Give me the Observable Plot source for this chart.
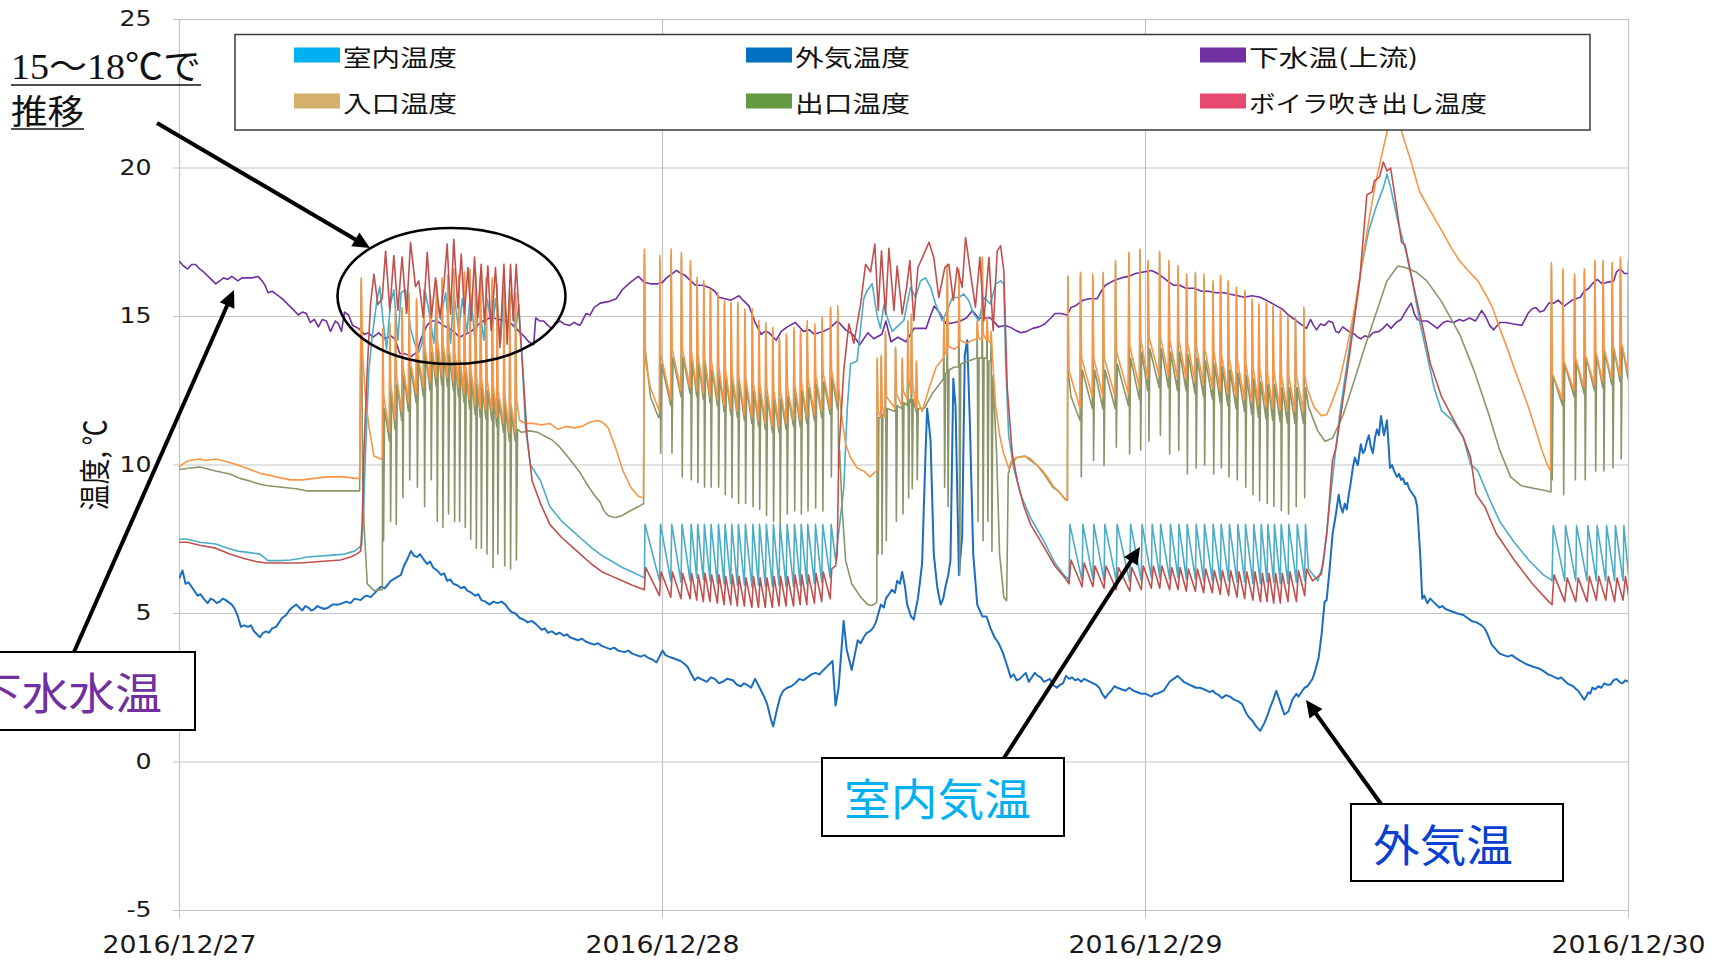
<!DOCTYPE html>
<html>
<head>
<meta charset="utf-8">
<script src="https://cdn.jsdelivr.net/npm/d3@7"></script>
<script src="https://cdn.jsdelivr.net/npm/@observablehq/plot@0.6"></script>
<style>
html,body{margin:0;padding:0;background:#fff;}
#wrap{position:relative;width:1721px;height:960px;overflow:hidden;}
</style>
</head>
<body>
<div id="wrap"></div>
<script>
// ---------- chart data ----------
const seriesNames = ["室内温度","外気温度","下水温(上流)","入口温度","出口温度","ボイラ吹き出し温度"];
const lineColors = ["#4bacc6","#1c6dbd","#7030a0","#f79646","#8a9668","#c0504d"];
const swatchColors = ["#00b0f0","#0070c0","#7030a0","#d4b06a","#659a45","#e84a6f"];
const dayLabels = ["2016/12/27","2016/12/28","2016/12/29","2016/12/30"];
const dayHours = [0,24,48,72];
const yTicks = [-5,0,5,10,15,20,25];

// [hours since 2016/12/27 00:00, °C]
const indoorTemp = [[0,7.5],[0.4,7.5],[1.0,7.4],[1.8,7.34],[2.4,7.2],[2.9,7.1],[3.5,7.05],[4.0,7.0],[4.4,6.78],[5.0,6.78],[5.5,6.8],[6.0,6.85],[6.3,6.9],[7.3,6.95],[8.2,7.0],[8.7,7.1],[8.9,7.2],[9.05,7.3],
[9.13,8.1],[9.24,10.4],[9.41,13.2],[9.57,14.3],[9.82,15.6],[9.95,16.0],[10.12,14.8],[10.29,13.9],[10.48,15.4],[10.65,15.9],[10.85,14.2],[11.01,15.8],[11.23,15.9],[11.48,14.6],[11.68,14.1],[11.89,13.8],[12.06,14.1],[12.22,15.8],[12.39,15.2],[12.64,14.1],[12.8,15.6],[12.97,14.9],[13.22,15.8],[13.47,14.1],[13.63,15.8],[13.88,14.5],[14.05,15.6],[14.29,14.5],[14.46,15.8],[14.71,14.0],[14.87,15.6],[15.12,14.2],[15.29,15.6],[15.54,14.5],[15.7,15.6],[15.95,14.1],[16.12,15.9],[16.28,14.5],[16.48,15.8],[16.7,14.5],[16.86,15.4],[17.03,13.5],[17.19,11.27],[17.44,10.0],[17.94,9.47],
[18.4,8.6],[19.0,8.1],[19.5,7.8],[20.0,7.5],[20.5,7.2],[21.0,6.95],[21.5,6.75],[22.0,6.55],[22.5,6.4],[23.1,6.2],
[23.13,8.0],[23.85,6.1],[23.9,8.0],[24.41,6.1],[24.46,8.0],[24.92,6.05],[24.97,8.0],[25.37,6.1],[25.42,8.0],[25.7,6.2],[25.75,8.0],[26.03,6.15],[26.08,8.0],[26.36,6.1],[26.41,8.0],[26.73,6.0],[26.78,8.0],[27.06,6.0],[27.11,8.0],[27.39,6.0],[27.44,8.0],[27.72,5.95],[27.77,8.0],[28.07,5.95],[28.12,8.0],[28.44,5.9],[28.49,8.0],[28.77,5.95],[28.82,8.0],[29.11,5.9],[29.16,8.0],[29.46,5.9],[29.51,8.0],[29.79,5.95],[29.84,8.0],[30.14,5.9],[30.19,8.0],[30.51,5.9],[30.56,8.0],[30.84,5.95],[30.89,8.0],[31.17,6.0],[31.22,8.0],[31.55,6.0],[31.6,8.0],[31.91,6.05],[31.96,8.0],[32.33,6.2],[32.38,8.0],[32.6,6.8],
[33.01,9.25],[33.18,11.9],[33.34,13.4],[33.67,13.5],[34.0,15.6],[34.17,15.87],[34.42,16.1],[34.67,15.0],[34.83,14.6],[35.0,15.4],[35.17,14.97],[35.41,14.5],[35.99,14.86],[36.32,15.98],[36.57,15.64],[36.82,16.2],[37.07,16.3],[37.32,15.98],[37.57,15.42],[37.9,14.86],[38.15,15.2],[38.4,15.64],[38.73,15.64],[38.97,15.76],[39.22,15.53],[39.47,15.08],[39.72,14.86],[39.97,15.64],[40.3,15.42],[40.55,16.1],[40.8,16.2],[40.96,16.1],[41.05,13.5],[41.2,11.0],[41.45,9.9],[41.8,9.0],[42.3,8.2],[42.9,7.5],[43.5,6.7],[44.0,6.25],[44.12,6.2],
[44.2,6.1],[44.24,8.0],[44.85,6.1],[44.89,8.0],[45.39,6.15],[45.43,8.0],[45.94,6.1],[45.98,8.0],[46.55,6.1],[46.59,8.0],[47.22,6.05],[47.26,8.0],[47.79,6.1],[47.83,8.0],[48.29,6.2],[48.33,8.0],[48.71,6.2],[48.75,8.0],[49.2,6.15],[49.24,8.0],[49.62,6.2],[49.66,8.0],[50.03,6.15],[50.07,8.0],[50.48,6.15],[50.52,8.0],[50.89,6.1],[50.93,8.0],[51.32,6.1],[51.36,8.0],[51.72,6.1],[51.76,8.0],[52.13,6.1],[52.17,8.0],[52.55,6.05],[52.59,8.0],[52.93,6.05],[52.97,8.0],[53.34,6.0],[53.38,8.0],[53.71,6.0],[53.75,8.0],[54.04,6.05],[54.08,8.0],[54.37,6.05],[54.41,8.0],[54.7,6.0],[54.74,8.0],[55.08,6.0],[55.12,8.0],[55.5,6.05],[55.54,8.0],[55.91,6.1],[55.95,8.0],
[56.1,6.5],[56.56,6.1],[56.83,6.67],[57.1,8.35],[57.37,10.03],[57.65,11.7],[58.01,13.4],[58.37,15.08],[58.73,16.65],[59.09,17.88],[59.45,18.67],[59.82,19.34],[60.0,19.8],[60.18,19.34],[60.54,18.2],[60.9,17.3],[61.26,16.2],[61.62,14.85],[61.98,13.73],[62.34,12.6],[62.71,11.83],[63.25,11.5],[63.79,10.93],[64.15,10.03],[64.51,9.8],[65.06,8.9],[65.6,8.1],[66.32,7.4],[67.04,6.8],[67.77,6.3],[68.13,6.15],
[68.2,6.1],[68.26,7.96],[68.83,6.1],[68.87,7.96],[69.38,6.1],[69.42,7.96],[69.94,6.1],[69.98,7.96],[70.4,6.1],[70.44,7.96],[70.87,6.1],[70.91,7.96],[71.31,6.1],[71.35,7.96],[71.73,6.1],[71.77,7.96],[72.0,6.3]];

const outdoorTemp = [[0,6.2],[0.15,6.45],[0.3,6.0],[0.45,6.05],[0.6,5.9],[0.75,5.75],[0.9,5.6],[1.05,5.65],[1.2,5.5],[1.4,5.35],[1.55,5.5],[1.7,5.45],[1.85,5.35],[2.0,5.4],[2.15,5.5],[2.3,5.45],[2.6,5.3],[2.75,5.15],[2.9,4.9],[3.05,4.55],[3.2,4.6],[3.4,4.55],[3.55,4.6],[3.7,4.4],[3.85,4.3],[4.0,4.2],[4.15,4.35],[4.3,4.4],[4.45,4.35],[4.6,4.5],[4.8,4.55],[4.95,4.7],[5.1,4.85],[5.3,4.95],[5.45,5.1],[5.6,5.2],[5.8,5.3],[5.95,5.2],[6.1,5.1],[6.25,5.25],[6.4,5.2],[6.55,5.1],[6.7,5.15],[6.85,5.25],[7.0,5.2],[7.2,5.15],[7.4,5.2],[7.6,5.3],[7.9,5.3],[8.1,5.35],[8.3,5.4],[8.5,5.35],[8.7,5.5],[9.0,5.45],[9.15,5.55],[9.3,5.6],[9.5,5.55],[9.66,5.66],[9.85,5.8],[10.0,5.9],[10.2,5.85],[10.5,6.1],[10.75,6.2],[11.0,6.3],[11.15,6.6],[11.3,6.8],[11.5,7.1],[11.65,6.95],[11.8,6.9],[11.95,7.0],[12.1,6.85],[12.3,6.67],[12.45,6.75],[12.6,6.55],[12.8,6.45],[13.0,6.3],[13.15,6.35],[13.3,6.1],[13.45,6.15],[13.6,6.0],[13.8,5.95],[14.0,5.85],[14.15,5.9],[14.3,5.77],[14.5,5.7],[14.7,5.6],[14.85,5.65],[15.0,5.45],[15.2,5.4],[15.4,5.3],[15.6,5.4],[15.8,5.35],[16.0,5.4],[16.2,5.3],[16.35,5.15],[16.5,5.05],[16.7,5.0],[16.9,4.85],[17.1,4.8],[17.3,4.7],[17.5,4.75],[17.7,4.65],[17.85,4.55],[18.0,4.45],[18.15,4.5],[18.3,4.35],[18.5,4.4],[18.7,4.3],[18.9,4.35],[19.1,4.25],[19.25,4.3],[19.4,4.2],[19.6,4.15],[19.8,4.1],[20.0,4.15],[20.2,4.05],[20.4,4.0],[20.6,3.95],[20.8,4.0],[21.0,3.9],[21.2,3.85],[21.4,3.8],[21.6,3.85],[21.8,3.75],[22.1,3.7],[22.3,3.75],[22.5,3.65],[22.7,3.6],[22.9,3.55],[23.1,3.6],[23.3,3.5],[23.5,3.45],[23.7,3.35],[24.0,3.75],[24.15,3.6],[24.3,3.55],[24.5,3.5],[24.7,3.45],[24.9,3.4],[25.1,3.3],[25.25,3.2],[25.4,3.0],[25.6,2.75],[25.75,2.85],[25.9,2.8],[26.05,2.75],[26.2,2.7],[26.4,2.85],[26.6,2.8],[26.8,2.65],[27.0,2.7],[27.2,2.8],[27.5,2.75],[27.7,2.6],[27.9,2.55],[28.05,2.65],[28.2,2.6],[28.4,2.5],[28.6,2.8],[28.75,2.6],[28.9,2.4],[29.05,2.2],[29.2,1.95],[29.4,1.4],[29.5,1.2],[29.7,1.8],[29.85,2.2],[30.0,2.4],[30.2,2.5],[30.4,2.55],[30.6,2.65],[30.8,2.8],[31.0,2.75],[31.2,2.85],[31.4,2.95],[31.6,3.0],[31.8,2.95],[32.0,3.1],[32.15,3.2],[32.3,3.3],[32.45,3.4],[32.6,1.9],[32.75,2.5],[33.0,4.75],[33.15,3.8],[33.4,3.1],[33.55,3.6],[33.7,4.1],[33.85,4.0],[34.0,4.2],[34.15,4.35],[34.3,4.4],[34.45,4.5],[34.6,4.7],[34.85,5.3],[35.0,5.2],[35.1,5.5],[35.25,5.65],[35.4,5.8],[35.55,5.7],[35.66,6.1],[35.8,6.0],[35.91,6.4],[36.05,5.9],[36.16,5.3],[36.35,4.9],[36.49,4.8],[36.6,5.2],[36.69,5.5],[36.8,6.1],[36.9,6.7],[37.07,10.4],[37.15,11.9],[37.25,11.3],[37.32,10.8],[37.48,7.0],[37.65,5.9],[37.82,5.3],[37.95,5.5],[38.06,5.9],[38.2,6.3],[38.31,6.8],[38.45,12.9],[38.56,12.0],[38.73,6.3],[38.89,7.6],[39.02,13.7],[39.14,14.2],[39.27,11.5],[39.44,7.0],[39.64,5.3],[39.89,4.9],[40.1,4.9],[40.3,4.5],[40.5,4.2],[40.7,4.0],[40.9,3.7],[41.1,3.3],[41.3,2.85],[41.45,2.95],[41.6,2.75],[41.75,2.8],[41.9,2.9],[42.05,3.0],[42.2,2.7],[42.35,2.85],[42.5,3.0],[42.65,2.9],[42.8,2.85],[42.95,2.7],[43.1,2.75],[43.25,2.8],[43.4,2.6],[43.6,2.5],[43.75,2.6],[43.9,2.65],[44.05,2.9],[44.2,2.8],[44.35,2.85],[44.5,2.75],[44.65,2.8],[44.8,2.7],[44.95,2.8],[45.1,2.75],[45.25,2.7],[45.4,2.65],[45.55,2.6],[45.7,2.5],[45.85,2.3],[46.0,2.15],[46.15,2.3],[46.3,2.4],[46.45,2.55],[46.6,2.5],[46.8,2.45],[47.0,2.4],[47.2,2.5],[47.4,2.4],[47.6,2.35],[47.8,2.3],[48.0,2.3],[48.15,2.25],[48.3,2.2],[48.45,2.3],[48.6,2.3],[48.75,2.35],[48.9,2.4],[49.05,2.55],[49.2,2.7],[49.4,2.8],[49.6,2.9],[49.75,2.8],[49.9,2.7],[50.05,2.65],[50.2,2.6],[50.35,2.55],[50.5,2.5],[50.7,2.5],[50.9,2.45],[51.05,2.4],[51.2,2.35],[51.35,2.4],[51.5,2.3],[51.65,2.25],[51.8,2.15],[52.0,2.25],[52.2,2.2],[52.4,2.1],[52.6,2.05],[52.8,1.95],[53.0,1.65],[53.15,1.5],[53.3,1.4],[53.5,1.2],[53.7,1.05],[53.9,1.3],[54.05,1.55],[54.2,1.85],[54.35,2.1],[54.5,2.4],[54.7,2.0],[54.9,1.6],[55.1,1.7],[55.3,2.1],[55.5,2.3],[55.6,2.2],[55.7,2.3],[55.9,2.5],[56.05,2.55],[56.2,2.7],[56.3,2.8],[56.4,3.0],[56.6,3.5],[56.75,4.3],[56.9,5.4],[57.0,5.45],[57.15,6.5],[57.3,7.7],[57.45,8.3],[57.6,9.0],[57.7,8.6],[57.8,8.4],[57.9,8.7],[58.0,8.5],[58.1,9.0],[58.2,9.4],[58.3,9.9],[58.4,10.25],[58.55,10.0],[58.7,10.7],[58.8,10.4],[58.9,10.5],[59.0,10.8],[59.1,11.0],[59.2,10.6],[59.3,10.4],[59.4,10.9],[59.5,11.2],[59.6,11.0],[59.7,11.65],[59.85,11.0],[60.0,11.5],[60.15,9.9],[60.25,10.0],[60.35,9.8],[60.5,9.6],[60.6,9.7],[60.7,9.5],[60.8,9.55],[60.9,9.35],[61.0,9.4],[61.1,9.2],[61.2,9.1],[61.3,9.0],[61.4,8.9],[61.5,8.6],[61.65,7.0],[61.75,5.5],[61.85,5.6],[62.0,5.35],[62.15,5.5],[62.3,5.4],[62.45,5.3],[62.6,5.2],[62.75,5.25],[62.9,5.15],[63.1,5.1],[63.3,5.05],[63.5,5.0],[63.8,4.95],[64.0,4.85],[64.2,4.75],[64.45,4.7],[64.7,4.6],[64.85,4.5],[65.0,4.3],[65.2,3.95],[65.4,3.8],[65.6,3.65],[65.8,3.6],[66.0,3.55],[66.2,3.6],[66.4,3.5],[66.65,3.4],[66.9,3.3],[67.1,3.25],[67.3,3.2],[67.55,3.15],[67.8,3.05],[68.0,2.95],[68.2,2.9],[68.35,2.85],[68.5,2.8],[68.65,2.85],[68.8,2.75],[68.95,2.65],[69.1,2.6],[69.25,2.55],[69.4,2.45],[69.5,2.4],[69.6,2.3],[69.8,2.1],[69.9,2.2],[70.0,2.35],[70.1,2.3],[70.2,2.5],[70.35,2.45],[70.5,2.55],[70.65,2.5],[70.8,2.65],[70.95,2.6],[71.1,2.6],[71.25,2.75],[71.4,2.8],[71.55,2.7],[71.7,2.65],[71.85,2.75],[72.0,2.7]];

const sewerTemp = [[0,16.85],[0.2,16.7],[0.4,16.6],[0.6,16.75],[0.8,16.75],[1.0,16.6],[1.2,16.5],[1.5,16.3],[1.8,16.1],[2.0,16.2],[2.2,16.3],[2.4,16.25],[2.6,16.35],[2.9,16.2],[3.1,16.3],[3.3,16.3],[3.6,16.3],[3.9,16.35],[4.1,16.2],[4.25,16.05],[4.4,15.8],[4.6,15.85],[4.8,15.75],[5.1,15.6],[5.4,15.4],[5.7,15.2],[5.9,15.05],[6.1,15.15],[6.3,15.1],[6.5,14.8],[6.7,14.9],[6.9,14.65],[7.1,14.9],[7.3,14.85],[7.5,14.5],[7.75,14.85],[7.9,14.75],[8.05,14.5],[8.2,15.15],[8.4,15.05],[8.6,14.7],[8.9,14.6],[9.2,14.4],[9.4,14.45],[9.6,14.3],[9.9,14.45],[10.2,14.25],[10.5,14.35],[10.7,14.25],[10.95,13.75],[11.2,13.75],[11.5,13.65],[11.8,13.8],[12.0,14.25],[12.3,14.7],[12.5,14.85],[12.8,14.85],[13.1,14.7],[13.4,14.6],[13.7,14.45],[13.9,14.3],[14.2,14.4],[14.5,14.5],[14.8,14.7],[15.1,14.85],[15.4,14.95],[15.6,14.95],[15.9,14.9],[16.2,14.85],[16.5,14.75],[16.8,14.55],[17.1,14.35],[17.35,14.15],[17.6,14.05],[17.7,14.95],[17.9,14.85],[18.1,14.85],[18.3,14.7],[18.5,14.6],[18.7,14.75],[18.9,14.85],[19.1,14.75],[19.4,14.7],[19.6,14.8],[19.9,14.7],[20.2,15.1],[20.4,15.05],[20.6,15.3],[20.9,15.45],[21.3,15.5],[21.7,15.6],[22.0,15.9],[22.4,16.15],[22.8,16.35],[23.1,16.15],[23.4,16.1],[23.75,16.1],[24.0,16.15],[24.2,16.3],[24.5,16.45],[24.7,16.55],[24.9,16.45],[25.1,16.4],[25.4,16.2],[25.65,16.05],[26.0,16.05],[26.4,15.95],[26.6,15.85],[26.8,15.65],[27.1,15.6],[27.4,15.55],[27.8,15.7],[28.0,15.55],[28.3,15.35],[28.6,14.8],[28.9,14.4],[29.1,14.5],[29.3,14.45],[29.65,14.2],[29.9,14.5],[30.2,14.65],[30.6,14.8],[31.0,14.5],[31.3,14.55],[31.55,14.4],[32.0,14.5],[32.3,14.6],[32.7,14.85],[33.1,14.55],[33.45,14.4],[33.8,14.05],[34.2,14.45],[34.5,14.25],[34.9,14.4],[35.1,14.85],[35.35,14.15],[35.7,14.3],[36.1,14.15],[36.5,14.6],[36.8,14.6],[37.1,14.6],[37.3,15.0],[37.5,15.35],[37.8,15.1],[38.1,14.75],[38.5,14.8],[38.8,14.85],[39.1,14.95],[39.4,15.2],[39.7,14.95],[40.0,14.95],[40.3,14.95],[40.7,14.65],[41.0,14.7],[41.25,14.65],[41.5,14.55],[41.8,14.45],[42.1,14.5],[42.4,14.6],[42.7,14.65],[43.0,14.75],[43.3,14.95],[43.5,15.1],[43.8,15.1],[44.1,15.05],[44.3,15.3],[44.5,15.35],[44.9,15.55],[45.2,15.6],[45.6,15.6],[45.8,15.85],[46.0,16.05],[46.4,16.2],[46.8,16.3],[47.15,16.35],[47.5,16.45],[47.9,16.5],[48.3,16.55],[48.6,16.45],[48.9,16.3],[49.1,16.2],[49.4,16.05],[49.7,16.05],[50.0,15.95],[50.4,15.95],[50.8,15.85],[51.1,15.85],[51.5,15.8],[51.9,15.8],[52.2,15.75],[52.6,15.7],[52.9,15.65],[53.3,15.7],[53.7,15.65],[54.0,15.55],[54.4,15.4],[54.8,15.25],[55.1,15.05],[55.5,14.85],[55.8,14.7],[56.0,14.6],[56.2,14.9],[56.35,14.7],[56.5,14.55],[56.7,14.75],[56.9,14.7],[57.1,14.85],[57.3,14.8],[57.45,14.5],[57.6,14.45],[57.8,14.65],[58.0,14.55],[58.2,14.45],[58.4,14.4],[58.55,14.3],[58.7,14.25],[58.9,14.35],[59.1,14.3],[59.3,14.45],[59.6,14.5],[59.8,14.6],[60.0,14.75],[60.2,14.6],[60.45,14.8],[60.7,14.9],[60.95,15.2],[61.2,15.45],[61.35,15.1],[61.5,14.9],[61.7,14.85],[62.0,14.85],[62.3,14.7],[62.5,14.6],[62.8,14.8],[63.0,14.85],[63.3,14.8],[63.6,14.9],[63.8,14.85],[64.1,14.95],[64.4,14.85],[64.7,15.2],[64.9,15.0],[65.1,14.7],[65.3,14.55],[65.6,14.8],[65.9,14.8],[66.3,14.75],[66.7,14.7],[67.0,15.1],[67.2,15.25],[67.4,15.3],[67.6,15.15],[67.8,15.2],[68.04,15.45],[68.3,15.45],[68.5,15.55],[68.8,15.35],[69.0,15.45],[69.2,15.55],[69.6,15.65],[69.8,15.85],[70.03,15.95],[70.2,16.1],[70.44,16.25],[70.7,16.1],[70.94,16.15],[71.27,16.2],[71.4,16.5],[71.6,16.6],[71.8,16.45],[72.0,16.45]];

const inletTemp = [[0,9.95],[0.3,10.1],[0.5,10.15],[1.0,10.2],[1.3,10.15],[1.8,10.2],[2.4,10.1],[2.9,10.0],[3.3,9.9],[3.7,9.8],[4.1,9.7],[4.5,9.65],[4.8,9.6],[5.5,9.5],[6.1,9.5],[6.7,9.55],[7.3,9.6],[8.2,9.6],[8.7,9.55],[8.95,9.55],
[9.03,16.3],[9.1,13.7],[9.25,12.2],[9.41,11.3],[9.66,10.3],[9.99,10.2],
[10.08,10.25],[10.1,14.6],[10.15,12.3],[10.43,11.1],[10.45,14.8],[10.5,12.7],[10.71,11.5],[10.73,15.2],[10.78,13.0],[11.04,11.8],[11.06,15.3],[11.11,13.3],[11.38,12.1],[11.4,15.8],[11.45,13.6],[11.76,12.4],[11.78,15.6],[11.83,13.8],[12.12,12.6],[12.14,15.9],[12.19,14.0],[12.45,12.8],[12.47,15.7],[12.52,14.1],[12.75,12.95],[12.77,16.2],[12.82,14.2],[13.03,13.0],[13.05,16.3],[13.1,14.1],[13.31,12.95],[13.33,16.4],[13.38,14.0],[13.61,12.8],[13.63,16.6],[13.68,13.8],[13.86,12.6],[13.88,16.4],[13.93,13.6],[14.14,12.4],[14.16,16.5],[14.21,13.4],[14.41,12.2],[14.43,16.6],[14.48,13.2],[14.69,12.0],[14.71,16.5],[14.76,13.0],[14.94,11.9],[14.96,16.4],[15.01,12.9],[15.22,11.85],[15.24,16.3],[15.29,12.85],[15.52,11.8],[15.54,16.3],[15.59,12.7],[15.76,11.6],[15.78,16.1],[15.83,12.5],[16.1,11.4],[16.12,16.0],[16.17,12.3],[16.39,11.1],[16.41,15.9],[16.46,12.1],[16.68,11.1],[16.7,15.8],[16.75,12.2],
[16.9,11.5],[17.2,11.4],[17.6,11.4],[18.0,11.35],[18.4,11.4],[18.8,11.2],[19.2,11.3],[19.6,11.25],[20.0,11.3],[20.4,11.45],[20.8,11.5],[21.0,11.45],[21.3,11.25],[21.66,10.6],[22.04,9.8],[22.42,9.25],[22.8,8.95],[23.06,8.9],
[23.1,17.27],[23.15,13.5],[23.4,12.6],[23.85,11.8],[23.87,17.05],[23.92,13.7],[24.41,12.2],[24.43,17.27],[24.48,13.9],[24.92,12.5],[24.94,17.16],[24.99,13.9],[25.37,12.6],[25.39,16.88],[25.44,13.8],[25.7,12.5],[25.72,16.32],[25.77,13.7],[26.03,12.4],[26.05,16.2],[26.1,13.6],[26.36,12.3],[26.38,15.92],[26.43,13.5],[26.73,12.2],[26.75,15.81],[26.8,13.3],[27.06,12.0],[27.08,15.53],[27.13,13.2],[27.39,11.9],[27.41,15.48],[27.46,13.1],[27.72,11.8],[27.74,15.48],[27.79,13.0],[28.07,11.7],[28.09,15.25],[28.14,12.9],[28.44,11.6],[28.46,15.25],[28.51,12.8],[28.77,11.5],[28.79,14.86],[28.84,12.7],[29.11,11.4],[29.13,14.8],[29.18,12.6],[29.46,11.3],[29.48,14.63],[29.53,12.5],[29.79,11.3],[29.81,14.3],[29.86,12.5],[30.14,11.4],[30.16,14.41],[30.21,12.6],[30.51,11.5],[30.53,14.63],[30.58,12.7],[30.84,11.5],[30.86,14.52],[30.91,12.8],[31.17,11.6],[31.19,14.86],[31.24,12.9],[31.55,11.7],[31.57,14.75],[31.62,13.0],[31.91,11.8],[31.93,14.97],[31.98,13.1],[32.33,11.9],[32.35,15.31],[32.4,13.2],[32.69,12.1],[32.71,15.36],[32.76,12.6],
[32.93,11.5],[33.1,10.7],[33.34,10.26],[33.67,9.9],[34.0,9.8],[34.3,9.6],[34.54,9.75],[34.65,9.8],
[34.66,9.8],[34.67,13.6],[34.72,11.8],[34.85,11.6],[34.87,13.7],[34.92,12.0],[35.06,11.6],[35.08,14.5],[35.13,12.3],[35.56,11.9],[35.58,13.96],[35.63,12.4],[35.89,12.0],[35.91,13.6],[35.96,12.5],[36.17,12.2],[36.19,14.86],[36.24,12.9],[36.35,12.4],[36.37,15.08],[36.42,12.8],[36.6,11.9],[36.62,13.5],[36.67,12.2],[36.9,11.8],[37.3,12.7],[37.6,13.3],[37.96,13.6],[37.98,14.97],[38.03,13.8],[38.13,13.7],[38.15,16.76],[38.2,14.0],[38.5,13.9],[38.71,14.0],[38.73,16.6],[38.78,14.2],[39.1,14.1],[39.4,14.2],[39.62,14.24],[39.64,14.86],[39.69,14.3],[39.87,14.2],[39.89,16.99],[39.94,14.4],[40.11,14.2],[40.13,14.97],[40.18,14.2],[40.31,14.1],[40.33,14.5],[40.4,13.6],[40.55,12.0],[40.75,11.0],[40.96,10.37],[41.2,9.9],[41.35,10.15],[41.6,10.25],[42.0,10.3],[42.3,10.2],[42.6,10.0],[42.9,9.8],[43.15,9.57],[43.4,9.3],[43.7,9.1],[44.0,8.86],[44.12,8.85],
[44.14,16.37],[44.19,13.2],[44.75,11.9],[44.77,16.49],[44.82,13.6],[45.36,12.3],[45.38,16.43],[45.43,13.6],[45.88,12.3],[45.9,16.49],[45.95,13.6],[46.49,12.3],[46.51,16.88],[46.56,13.8],[47.15,12.4],[47.17,17.16],[47.22,14.0],[47.7,12.6],[47.72,17.27],[47.77,14.2],[48.11,12.9],[48.13,16.88],[48.18,14.3],[48.68,13.0],[48.7,17.19],[48.75,14.3],[49.14,13.0],[49.16,16.88],[49.21,14.2],[49.59,12.9],[49.61,16.71],[49.66,14.2],[50.02,12.9],[50.04,16.43],[50.09,14.1],[50.46,12.8],[50.48,16.49],[50.53,14.0],[50.88,12.7],[50.9,16.43],[50.95,13.9],[51.33,12.6],[51.35,16.2],[51.4,13.8],[51.71,12.5],[51.73,16.37],[51.78,13.7],[52.09,12.4],[52.11,16.2],[52.16,13.6],[52.5,12.3],[52.52,15.98],[52.57,13.5],[52.92,12.2],[52.94,15.87],[52.99,13.4],[53.28,12.1],[53.3,15.59],[53.35,13.3],[53.61,12.0],[53.63,15.42],[53.68,13.2],[53.99,11.95],[54.01,15.48],[54.06,13.1],[54.32,11.9],[54.34,15.36],[54.39,13.1],[54.69,11.85],[54.71,15.2],[54.76,13.0],[55.05,11.8],[55.07,15.03],[55.12,13.0],[55.43,11.8],[55.45,14.97],[55.5,13.0],[55.85,11.8],[55.87,15.31],[55.92,13.0],
[56.02,12.6],[56.38,11.94],[56.74,11.66],[57.01,11.7],[57.29,12.16],[57.65,12.84],[58.01,13.96],[58.37,15.19],[58.73,16.65],[59.09,18.2],[59.45,19.56],[59.82,20.68],[60.1,21.5],[60.39,21.8],[60.72,21.24],[61.2,20.2],[61.62,19.2],[62.2,18.5],[62.71,17.9],[63.2,17.3],[63.61,16.87],[64.1,16.5],[64.51,16.2],[64.9,15.75],[65.24,15.3],[65.6,14.6],[65.96,13.96],[66.3,13.3],[66.68,12.6],[67.05,11.9],[67.4,11.15],[67.7,10.5],[67.95,10.03],[68.13,9.8],
[68.17,16.82],[68.22,13.06],[68.72,12.2],[68.74,16.6],[68.79,13.5],[69.3,12.5],[69.32,16.43],[69.37,13.6],[69.79,12.6],[69.81,16.6],[69.86,13.7],[70.31,12.7],[70.33,16.88],[70.38,13.8],[70.72,12.8],[70.74,16.88],[70.79,13.9],[71.17,12.9],[71.19,16.82],[71.24,14.0],[71.58,13.0],[71.6,16.99],[71.65,14.1],[71.98,13.1],[72.0,16.88]];

const outletTemp = [[0,9.85],[0.5,9.9],[1.0,9.93],[1.5,9.85],[1.8,9.8],[2.5,9.7],[3.0,9.55],[3.5,9.46],[4.0,9.35],[4.4,9.3],[5.2,9.24],[5.8,9.2],[6.3,9.13],[7.3,9.13],[8.2,9.13],[8.95,9.13],
[9.03,16.2],[9.1,9.5],[9.16,8.13],[9.33,6.0],[9.66,5.77],[9.99,5.8],
[10.08,5.8],[10.1,14.5],[10.14,7.45],[10.19,11.9],[10.43,10.8],[10.45,14.7],[10.49,8.1],[10.54,12.4],[10.71,11.2],[10.73,15.1],[10.77,8.0],[10.82,12.7],[11.04,11.5],[11.06,15.2],[11.1,8.9],[11.15,13.0],[11.38,11.8],[11.4,15.7],[11.44,9.5],[11.49,13.3],[11.76,12.1],[11.78,15.5],[11.82,9.25],[11.87,13.5],[12.12,12.3],[12.14,15.8],[12.18,8.6],[12.23,13.7],[12.45,12.5],[12.47,15.6],[12.51,9.5],[12.56,13.8],[12.75,12.65],[12.77,16.1],[12.81,8.1],[12.86,13.9],[13.03,12.7],[13.05,16.2],[13.09,7.9],[13.14,13.8],[13.31,12.65],[13.33,16.3],[13.37,8.35],[13.42,13.7],[13.61,12.5],[13.63,16.5],[13.67,8.1],[13.72,13.5],[13.86,12.3],[13.88,16.3],[13.92,8.1],[13.97,13.3],[14.14,12.1],[14.16,16.4],[14.2,7.9],[14.25,13.1],[14.41,11.9],[14.43,16.5],[14.47,7.5],[14.52,12.9],[14.69,11.7],[14.71,16.4],[14.75,7.2],[14.8,12.7],[14.94,11.6],[14.96,16.3],[15.0,7.2],[15.05,12.6],[15.22,11.55],[15.24,16.2],[15.28,7.0],[15.33,12.5],[15.52,11.5],[15.54,16.2],[15.58,6.55],[15.63,12.4],[15.76,11.3],[15.78,16.0],[15.82,7.0],[15.87,12.2],[16.1,11.1],[16.12,15.9],[16.16,6.6],[16.21,12.0],[16.39,10.8],[16.41,15.8],[16.45,6.5],[16.5,11.8],[16.68,10.8],[16.7,15.7],[16.74,6.8],[16.8,11.2],
[17.0,11.1],[17.4,11.15],[17.8,11.1],[18.2,10.95],[18.5,10.85],[18.9,10.6],[19.2,10.35],[19.5,10.1],[19.9,9.75],[20.2,9.4],[20.6,9.0],[20.9,8.75],[21.1,8.45],[21.3,8.3],[21.5,8.25],[21.7,8.23],[22.0,8.3],[22.4,8.46],[22.8,8.6],[23.06,8.7],
[23.1,17.1],[23.14,13.9],[23.4,12.3],[23.8,11.6],[23.85,11.6],[23.87,16.9],[23.91,10.4],[23.96,13.4],[24.41,12.0],[24.43,17.1],[24.47,10.4],[24.52,13.6],[24.92,12.3],[24.94,17.0],[24.98,9.6],[25.03,13.6],[25.37,12.4],[25.39,16.7],[25.43,9.5],[25.48,13.5],[25.7,12.3],[25.72,16.2],[25.76,9.4],[25.81,13.4],[26.03,12.2],[26.05,16.1],[26.09,9.25],[26.14,13.3],[26.36,12.1],[26.38,15.8],[26.42,9.25],[26.47,13.2],[26.73,12.0],[26.75,15.7],[26.79,9.25],[26.84,13.0],[27.06,11.8],[27.08,15.4],[27.12,9.0],[27.17,12.9],[27.39,11.7],[27.41,15.4],[27.45,8.9],[27.5,12.8],[27.72,11.6],[27.74,15.4],[27.78,8.7],[27.83,12.7],[28.07,11.5],[28.09,15.1],[28.13,8.7],[28.18,12.6],[28.44,11.4],[28.46,15.1],[28.5,8.6],[28.55,12.5],[28.77,11.3],[28.79,14.7],[28.83,8.5],[28.88,12.4],[29.11,11.2],[29.13,14.7],[29.17,8.3],[29.22,12.3],[29.46,11.1],[29.48,14.5],[29.52,8.1],[29.57,12.2],[29.79,11.1],[29.81,14.2],[29.85,8.0],[29.9,12.2],[30.14,11.2],[30.16,14.3],[30.2,8.35],[30.25,12.3],[30.51,11.3],[30.53,14.5],[30.57,8.45],[30.62,12.4],[30.84,11.3],[30.86,14.4],[30.9,8.35],[30.95,12.5],[31.17,11.4],[31.19,14.7],[31.23,8.45],[31.28,12.6],[31.55,11.5],[31.57,14.6],[31.61,8.55],[31.66,12.7],[31.91,11.6],[31.93,14.8],[31.97,8.45],[32.02,12.8],[32.33,11.7],[32.35,15.2],[32.39,9.6],[32.44,12.9],[32.69,11.9],[32.71,15.2],[32.75,9.9],[32.8,10.5],
[32.93,8.5],[33.1,6.78],[33.4,6.0],[33.85,5.55],[34.2,5.3],[34.4,5.27],[34.6,5.35],
[34.65,5.4],[34.67,13.5],[34.71,7.0],[34.75,11.6],[34.85,11.6],[34.87,13.6],[34.91,7.0],[34.95,11.7],[35.06,11.7],[35.08,14.4],[35.12,7.45],[35.17,11.9],[35.56,11.8],[35.58,13.9],[35.62,8.1],[35.67,12.0],[35.89,11.9],[35.91,13.5],[35.95,8.35],[36.0,12.1],[36.17,12.0],[36.19,14.8],[36.23,8.9],[36.28,12.2],[36.35,12.1],[36.37,15.0],[36.41,9.2],[36.46,12.2],[36.6,11.8],[36.62,13.4],[36.66,9.5],[36.71,11.9],[37.0,11.9],[37.4,12.4],[37.96,12.9],[37.98,14.9],[38.02,9.25],[38.07,13.1],[38.13,13.1],[38.15,16.7],[38.19,8.6],[38.24,13.2],[38.5,13.3],[38.71,13.3],[38.73,16.5],[38.77,6.3],[38.82,13.4],[39.2,13.5],[39.62,13.6],[39.64,14.8],[39.68,8.1],[39.73,13.6],[39.87,13.6],[39.89,16.9],[39.93,7.45],[39.98,13.6],[40.11,13.6],[40.13,14.9],[40.17,8.1],[40.22,13.5],[40.31,13.5],[40.33,14.4],[40.37,7.1],[40.42,13.0],[40.6,10.4],[40.75,7.0],[40.96,5.55],[41.1,5.43],[41.18,9.7],[41.3,10.0],[41.6,10.25],[42.0,10.3],[42.3,10.15],[42.6,10.0],[42.9,9.75],[43.15,9.5],[43.4,9.25],[43.7,9.1],[44.0,8.85],[44.12,8.8],
[44.14,16.3],[44.18,13.0],[44.3,12.3],[44.75,11.5],[44.77,16.4],[44.81,9.6],[44.86,13.2],[45.36,11.9],[45.38,16.3],[45.42,10.15],[45.47,13.2],[45.88,11.9],[45.9,16.4],[45.94,9.98],[45.99,13.2],[46.49,11.9],[46.51,16.8],[46.55,10.6],[46.6,13.4],[47.15,12.0],[47.17,17.1],[47.21,10.37],[47.26,13.6],[47.7,12.2],[47.72,17.2],[47.76,10.5],[47.81,13.8],[48.11,12.5],[48.13,16.8],[48.17,10.8],[48.22,13.9],[48.68,12.6],[48.7,17.1],[48.74,11.0],[48.79,13.9],[49.14,12.6],[49.16,16.8],[49.2,10.37],[49.25,13.8],[49.59,12.5],[49.61,16.6],[49.65,10.5],[49.7,13.8],[50.02,12.5],[50.04,16.3],[50.08,9.7],[50.13,13.7],[50.46,12.4],[50.48,16.4],[50.52,9.9],[50.57,13.6],[50.88,12.3],[50.9,16.3],[50.94,10.0],[50.99,13.5],[51.33,12.2],[51.35,16.1],[51.39,9.7],[51.44,13.4],[51.71,12.1],[51.73,16.3],[51.77,9.9],[51.82,13.3],[52.09,12.0],[52.11,16.1],[52.15,9.6],[52.2,13.2],[52.5,11.9],[52.52,15.9],[52.56,9.5],[52.61,13.1],[52.92,11.8],[52.94,15.8],[52.98,9.25],[53.03,13.0],[53.28,11.7],[53.3,15.5],[53.34,9.0],[53.39,12.9],[53.61,11.6],[53.63,15.3],[53.67,8.8],[53.72,12.8],[53.99,11.55],[54.01,15.4],[54.05,8.7],[54.1,12.7],[54.32,11.5],[54.34,15.3],[54.38,8.6],[54.43,12.7],[54.69,11.45],[54.71,15.1],[54.75,8.46],[54.8,12.6],[55.05,11.4],[55.07,14.9],[55.11,8.35],[55.16,12.6],[55.43,11.4],[55.45,14.9],[55.49,8.6],[55.54,12.6],[55.85,11.4],[55.87,15.2],[55.91,8.9],[55.96,12.6],
[56.11,11.94],[56.56,11.15],[56.92,10.8],[57.29,10.9],[57.83,11.7],[58.37,12.84],[58.91,14.0],[59.45,15.1],[60.0,16.2],[60.54,16.7],[60.9,16.65],[61.44,16.5],[61.98,16.2],[62.71,15.5],[63.61,14.4],[64.33,13.17],[65.06,11.7],[65.6,10.5],[66.14,9.6],[66.68,9.3],[67.4,9.2],[67.8,9.15],[68.1,9.1],
[68.15,9.1],[68.17,16.7],[68.21,9.5],[68.26,13.0],[68.72,12.0],[68.74,16.5],[68.78,9.0],[68.83,13.4],[69.3,12.3],[69.32,16.3],[69.36,9.5],[69.41,13.5],[69.79,12.4],[69.81,16.5],[69.85,9.5],[69.9,13.6],[70.31,12.5],[70.33,16.8],[70.37,9.8],[70.42,13.7],[70.72,12.6],[70.74,16.8],[70.78,9.8],[70.83,13.8],[71.17,12.7],[71.19,16.7],[71.23,9.9],[71.28,13.9],[71.58,12.8],[71.6,16.9],[71.64,10.2],[71.69,14.0],[71.98,12.9],[72.0,16.8]];

const boilerTemp = [[0,7.4],[0.4,7.4],[1.0,7.3],[1.8,7.2],[2.5,7.0],[3.2,6.85],[3.8,6.75],[4.3,6.7],[5.0,6.7],[6.0,6.7],[7.0,6.75],[8.0,6.8],[8.5,6.9],[8.8,7.0],[9.0,7.1],
[9.08,8.1],[9.16,10.4],[9.33,13.2],[9.49,15.4],[9.66,16.43],[9.86,15.4],[10.07,15.6],[10.24,17.2],[10.45,15.2],[10.65,17.05],[10.85,15.2],[11.06,17.0],[11.28,15.1],[11.48,17.5],[11.73,16.0],[11.89,16.2],[12.11,14.97],[12.31,17.16],[12.52,14.97],[12.72,16.3],[12.94,14.97],[13.13,16.0],[13.3,17.44],[13.47,15.08],[13.63,17.6],[13.83,15.3],[14.0,17.1],[14.16,15.08],[14.33,16.65],[14.49,14.86],[14.66,17.0],[14.82,14.97],[14.99,16.76],[15.16,14.75],[15.32,16.71],[15.49,14.52],[15.7,16.65],[15.92,13.96],[16.12,16.76],[16.28,14.07],[16.45,16.76],[16.58,14.86],[16.73,16.76],[16.89,14.86],[17.03,13.5],[17.28,10.9],[17.52,9.47],[17.94,8.7],
[18.4,8.0],[19.0,7.55],[19.5,7.25],[20.0,6.95],[20.5,6.65],[21.0,6.4],[21.5,6.25],[22.0,6.1],[22.5,5.95],[23.1,5.8],
[23.16,6.55],[23.85,5.6],[23.93,6.4],[24.41,5.55],[24.49,6.4],[24.92,5.5],[25.0,6.35],[25.37,5.5],[25.45,6.35],[25.7,5.45],[25.78,6.3],[26.03,5.4],[26.11,6.35],[26.36,5.4],[26.44,6.3],[26.73,5.35],[26.81,6.3],[27.06,5.3],[27.14,6.25],[27.39,5.3],[27.47,6.3],[27.72,5.25],[27.8,6.25],[28.07,5.25],[28.15,6.2],[28.44,5.2],[28.52,6.25],[28.77,5.2],[28.85,6.2],[29.11,5.2],[29.19,6.2],[29.46,5.2],[29.54,6.25],[29.79,5.25],[29.87,6.25],[30.14,5.25],[30.22,6.25],[30.51,5.25],[30.59,6.3],[30.84,5.3],[30.92,6.3],[31.17,5.3],[31.25,6.3],[31.55,5.35],[31.63,6.35],[31.91,5.4],[31.99,6.4],[32.33,5.5],[32.41,6.5],[32.6,6.6],
[32.68,7.0],[32.76,10.4],[33.01,13.2],[33.26,14.75],[33.51,14.1],[33.84,15.4],[34.09,16.76],[34.34,16.5],[34.55,17.44],[34.72,15.2],[34.88,17.2],[35.08,15.08],[35.25,17.3],[35.5,15.2],[35.66,16.7],[35.91,15.08],[36.13,15.98],[36.29,16.88],[36.49,14.86],[36.69,16.65],[36.99,17.1],[37.24,17.5],[37.48,16.99],[37.73,15.64],[38.03,16.65],[38.23,16.76],[38.45,15.53],[38.64,16.65],[38.89,15.98],[39.06,17.66],[39.31,16.43],[39.55,15.31],[39.77,16.99],[39.97,14.86],[40.22,16.99],[40.43,14.52],[40.63,17.2],[40.8,17.38],[40.96,16.54],[41.13,12.6],[41.38,10.37],[41.63,9.47],[41.96,8.6],[42.29,8.0],[42.9,7.3],[43.5,6.6],[44.0,6.2],
[44.2,6.0],[44.3,6.8],[44.85,5.9],[44.95,6.7],[45.39,5.9],[45.49,6.6],[45.94,5.85],[46.04,6.6],[46.55,5.8],[46.65,6.55],[47.22,5.75],[47.32,6.55],[47.79,5.8],[47.89,6.6],[48.29,5.85],[48.39,6.6],[48.71,5.85],[48.81,6.6],[49.2,5.8],[49.3,6.55],[49.62,5.8],[49.72,6.55],[50.03,5.75],[50.13,6.5],[50.48,5.75],[50.58,6.5],[50.89,5.7],[50.99,6.5],[51.32,5.7],[51.42,6.45],[51.72,5.65],[51.82,6.45],[52.13,5.6],[52.23,6.45],[52.55,5.55],[52.65,6.4],[52.93,5.5],[53.03,6.4],[53.34,5.45],[53.44,6.4],[53.71,5.4],[53.81,6.35],[54.04,5.4],[54.14,6.35],[54.37,5.35],[54.47,6.35],[54.7,5.35],[54.8,6.35],[55.08,5.4],[55.18,6.4],[55.5,5.4],[55.6,6.45],[55.91,5.6],[56.0,6.5],
[56.3,6.1],[56.74,6.33],[57.01,7.68],[57.29,10.15],[57.47,10.6],[57.83,12.28],[58.19,13.96],[58.64,16.2],[59.0,19.1],[59.27,19.2],[59.36,19.56],[59.63,19.7],[59.82,20.2],[60.0,19.9],[60.18,20.0],[60.45,18.8],[60.72,17.5],[60.9,17.4],[61.26,16.2],[61.71,14.85],[62.16,13.4],[62.71,12.3],[63.25,11.6],[63.79,10.93],[64.15,10.26],[64.42,9.02],[64.87,8.58],[65.42,7.7],[66.32,6.8],[67.22,6.0],[68.04,5.4],[68.2,5.3],
[68.3,6.3],[68.83,5.4],[68.95,6.2],[69.38,5.4],[69.5,6.2],[69.94,5.4],[70.06,6.25],[70.4,5.45],[70.52,6.25],[70.87,5.45],[71.0,6.25],[71.31,5.4],[71.43,6.2],[71.73,5.45],[71.85,6.25],[72.0,5.6]];

// ---------- drawing ----------
const seriesData = [indoorTemp, outdoorTemp, sewerTemp, inletTemp, outletTemp, boilerTemp];
const lineWidths = [1.6, 2.0, 1.6, 1.6, 1.6, 1.6];
const drawOrder = [2, 1, 0, 4, 3, 5];
const gridColor = "#c3c3c3";

const chart = Plot.plot({
  width: 1721,
  height: 960,
  marginLeft: 179,
  marginRight: 93,
  marginTop: 19,
  marginBottom: 50,
  style: {background: "white", color: "#1a1a1a", fontFamily: "DejaVu Sans"},
  x: {domain: [0, 72]},
  y: {domain: [-5, 25]},
  marks: [
    Plot.gridY(yTicks, {stroke: gridColor, strokeOpacity: 1, strokeWidth: 1.2}),
    Plot.gridX(dayHours, {stroke: gridColor, strokeOpacity: 1, strokeWidth: 1.2}),
    Plot.axisY(yTicks, {tickSize: 6, tickPadding: 22, stroke: gridColor, fill: "#1a1a1a", fontSize: 21, label: null, tickFormat: d => String(d)}),
    Plot.axisX(dayHours, {tickSize: 8, tickPadding: 17, stroke: gridColor, fill: "#1a1a1a", fontSize: 24, label: null, tickFormat: d => dayLabels[dayHours.indexOf(d)]}),
    ...drawOrder.map(i => Plot.line(seriesData[i], {x: d => d[0], y: d => d[1], stroke: lineColors[i], strokeWidth: lineWidths[i], clip: true}))
  ]
});

const wrap = document.getElementById("wrap");
wrap.appendChild(chart);

// horizontally widen tick labels as in the reference
chart.querySelectorAll('[aria-label="x-axis tick label"] text').forEach(t => {
  t.setAttribute("textLength", 154);
  t.setAttribute("lengthAdjust", "spacingAndGlyphs");
});
chart.querySelectorAll('[aria-label="y-axis tick label"] text').forEach(t => {
  const w = t.getComputedTextLength();
  t.setAttribute("textLength", (w * 1.2).toFixed(1));
  t.setAttribute("lengthAdjust", "spacingAndGlyphs");
});

// ---------- overlay: legend, axis title, annotations ----------
const ov = d3.select(wrap).append("svg")
  .attr("width", 1721).attr("height", 960)
  .style("position", "absolute").style("left", "0px").style("top", "0px");

const jp = "'Noto Sans CJK JP', 'Noto Sans', sans-serif";

// legend
const legendLengths = [114, 115, 169, 114, 115, 238];
const legendColX = [294, 746, 1200];
const legendRowY = [47.5, 93.5];
ov.append("rect").attr("x", 235).attr("y", 34.5).attr("width", 1355).attr("height", 95.5)
  .attr("fill", "white").attr("stroke", "#3a3a3a").attr("stroke-width", 1.5);
seriesNames.forEach((name, i) => {
  const cx = legendColX[i % 3], ry = legendRowY[Math.floor(i / 3)];
  ov.append("rect").attr("x", cx).attr("y", ry).attr("width", 46).attr("height", 15).attr("fill", swatchColors[i]);
  ov.append("text").attr("x", cx + 49).attr("y", ry + 18.5)
    .attr("font-family", jp).attr("font-size", 23).attr("fill", "#111")
    .attr("textLength", legendLengths[i]).attr("lengthAdjust", "spacingAndGlyphs")
    .text(name);
});

// y-axis title
ov.append("text").attr("transform", "translate(92,465) scale(1.2,1) rotate(-90)")
  .attr("text-anchor", "middle").attr("dominant-baseline", "central")
  .attr("font-family", jp).attr("font-size", 26).attr("fill", "#111")
  .text("温度, ℃");

// arrows
function arrow(x1, y1, x2, y2) {
  const dx = x2 - x1, dy = y2 - y1, L = Math.hypot(dx, dy);
  const ux = dx / L, uy = dy / L, hl = 17, hw = 8;
  const bx = x2 - ux * hl, by = y2 - uy * hl;
  ov.append("line").attr("x1", x1).attr("y1", y1).attr("x2", bx + ux * 2).attr("y2", by + uy * 2)
    .attr("stroke", "black").attr("stroke-width", 4);
  ov.append("polygon").attr("points",
    `${x2},${y2} ${bx - uy * hw},${by + ux * hw} ${bx + uy * hw},${by - ux * hw}`).attr("fill", "black");
}

// ellipse + note "15～18℃で推移"
ov.append("ellipse").attr("cx", 451.5).attr("cy", 296).attr("rx", 114).attr("ry", 68)
  .attr("fill", "none").attr("stroke", "black").attr("stroke-width", 2.6);
ov.append("text").attr("x", 11).attr("y", 79)
  .attr("font-family", "'Liberation Serif', 'Noto Sans CJK JP', serif").attr("font-size", 35).attr("fill", "#111")
  .attr("textLength", 190).attr("lengthAdjust", "spacingAndGlyphs").text("15～18℃で");
ov.append("text").attr("x", 11).attr("y", 124)
  .attr("font-family", jp).attr("font-size", 34).attr("fill", "#111")
  .attr("textLength", 73).attr("lengthAdjust", "spacingAndGlyphs").text("推移");
ov.append("line").attr("x1", 11).attr("x2", 201).attr("y1", 85).attr("y2", 85).attr("stroke", "#111").attr("stroke-width", 1.6);
ov.append("line").attr("x1", 11).attr("x2", 84).attr("y1", 129).attr("y2", 129).attr("stroke", "#111").attr("stroke-width", 1.6);
arrow(157, 123, 370, 248);

// callout boxes
function callout(x, y, w, h, label, tx, ty, tlen, color) {
  ov.append("rect").attr("x", x).attr("y", y).attr("width", w).attr("height", h)
    .attr("fill", "white").attr("stroke", "black").attr("stroke-width", 2);
  ov.append("text").attr("x", tx).attr("y", ty).attr("dominant-baseline", "central")
    .attr("font-family", jp).attr("font-size", 44).attr("fill", color)
    .attr("textLength", tlen).attr("lengthAdjust", "spacingAndGlyphs").text(label);
}
arrow(74, 652, 234, 290);
callout(-5, 652, 200, 78, "下水水温", -25, 691, 187, "#7030a0");
arrow(1004, 758, 1140, 547);
callout(822, 758, 242, 78, "室内気温", 844, 797, 187, "#00b0f0");
arrow(1381, 804, 1306, 700);
callout(1351, 804, 212, 77, "外気温", 1373, 843, 140, "#0a3fd0");
</script>
</body>
</html>
